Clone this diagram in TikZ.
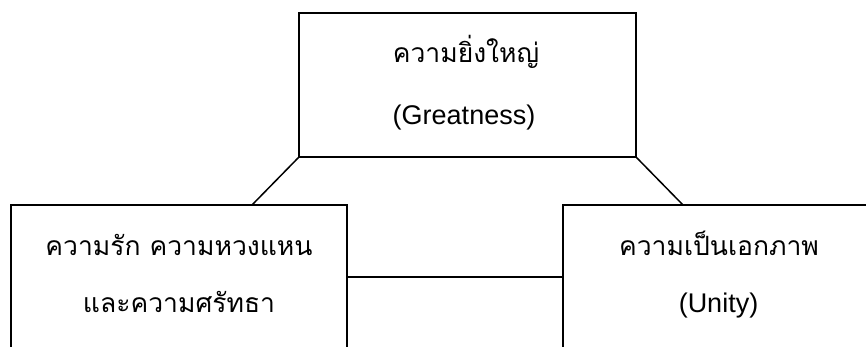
\documentclass[tikz,border=0pt]{standalone}
\usepackage{fontspec}
\setmainfont{Liberation Sans}
\newfontfamily\thaifont[Script=Thai]{Loma}
\tikzset{
  boxshape/.style={draw=black, line width=1.5pt, rectangle, inner sep=0pt},
  thaitxt/.style={anchor=base, inner sep=0pt, font=\thaifont\fontsize{26.5}{30}\selectfont},
  latintxt/.style={anchor=base, inner sep=0pt, font=\fontsize{27}{32}\selectfont},
  link/.style={draw=black, line width=1.5pt}
}
\begin{document}
\begin{tikzpicture}[x=1pt,y=-1pt]
\useasboundingbox (0,0) rectangle (866,347);
\clip (0,0) rectangle (866,347);
\node[boxshape, minimum width=337pt, minimum height=144pt] (top) at (467.5,85) {};
\node[boxshape, minimum width=336pt, minimum height=160pt] (left) at (179,285) {};
\node[boxshape, minimum width=312pt, minimum height=160pt] (right) at (719,285) {};
\node[thaitxt] (t1) at (466,63) {ความยิ่งใหญ่};
\node[latintxt] (t2) at (464,125) {(Greatness)};
\node[thaitxt] (l1) at (179,255) {ความรัก ความหวงแหน};
\node[thaitxt] (l2) at (179,312) {และความศรัทธา};
\node[thaitxt] (r1) at (719,255) {ความเป็นเอกภาพ};
\node[latintxt] (r2) at (718.5,312) {(Unity)};
\coordinate (lj) at (252,205);
\coordinate (rj) at (683,205);
\coordinate (hl) at (347,277);
\draw[link] (top.south west) -- (lj);
\draw[link] (top.south east) -- (rj);
\draw[link] (hl) -- (hl -| right.west);
\end{tikzpicture}
\end{document}
